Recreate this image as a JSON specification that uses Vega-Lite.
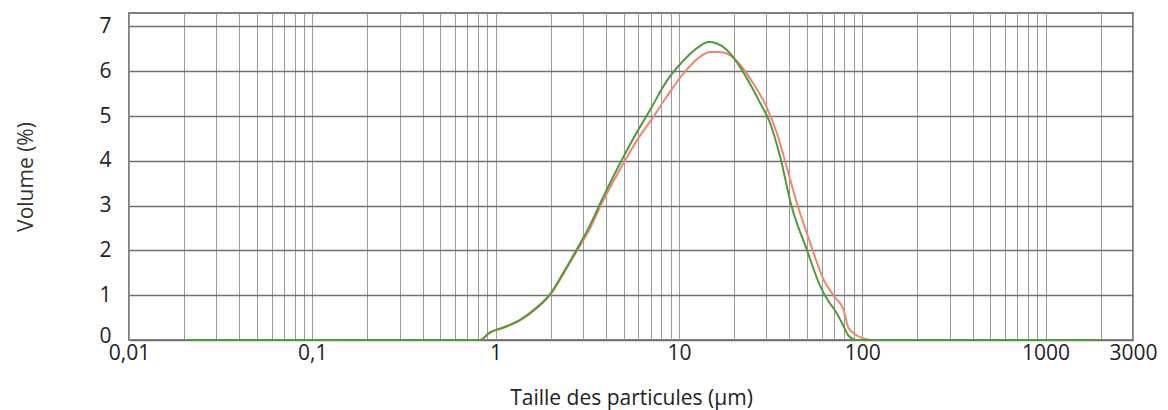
{
  "$schema": "https://vega.github.io/schema/vega-lite/v6.json",
  "autosize": "none",
  "padding": {"left": 129, "top": 13, "right": 35, "bottom": 70},
  "width": 1004,
  "height": 327,
  "background": "white",
  "config": {
    "font": "Open Sans",
    "view": {"stroke": "#555", "strokeWidth": 1.5}
  },
  "data": {
    "values": [
      {"taille": 0.02, "volume": 0, "serie": "rouge"},
      {"taille": 0.82, "volume": 0, "serie": "rouge"},
      {"taille": 0.93, "volume": 0.16, "serie": "rouge"},
      {"taille": 1.1, "volume": 0.27, "serie": "rouge"},
      {"taille": 1.36, "volume": 0.44, "serie": "rouge"},
      {"taille": 1.68, "volume": 0.71, "serie": "rouge"},
      {"taille": 1.98, "volume": 1.0, "serie": "rouge"},
      {"taille": 2.34, "volume": 1.47, "serie": "rouge"},
      {"taille": 2.77, "volume": 1.98, "serie": "rouge"},
      {"taille": 3.27, "volume": 2.49, "serie": "rouge"},
      {"taille": 3.87, "volume": 3.12, "serie": "rouge"},
      {"taille": 4.58, "volume": 3.68, "serie": "rouge"},
      {"taille": 5.89, "volume": 4.45, "serie": "rouge"},
      {"taille": 7.25, "volume": 4.98, "serie": "rouge"},
      {"taille": 8.57, "volume": 5.43, "serie": "rouge"},
      {"taille": 10.6, "volume": 5.95, "serie": "rouge"},
      {"taille": 13.0, "volume": 6.32, "serie": "rouge"},
      {"taille": 14.8, "volume": 6.43, "serie": "rouge"},
      {"taille": 16.7, "volume": 6.43, "serie": "rouge"},
      {"taille": 19.0, "volume": 6.36, "serie": "rouge"},
      {"taille": 21.5, "volume": 6.15, "serie": "rouge"},
      {"taille": 25.5, "volume": 5.72, "serie": "rouge"},
      {"taille": 30.1, "volume": 5.2, "serie": "rouge"},
      {"taille": 34.2, "volume": 4.62, "serie": "rouge"},
      {"taille": 37.2, "volume": 4.12, "serie": "rouge"},
      {"taille": 44.0, "volume": 3.06, "serie": "rouge"},
      {"taille": 52.0, "volume": 2.17, "serie": "rouge"},
      {"taille": 61.4, "volume": 1.36, "serie": "rouge"},
      {"taille": 71.1, "volume": 0.95, "serie": "rouge"},
      {"taille": 78.9, "volume": 0.69, "serie": "rouge"},
      {"taille": 84.0, "volume": 0.28, "serie": "rouge"},
      {"taille": 93.3, "volume": 0.1, "serie": "rouge"},
      {"taille": 105.9, "volume": 0.02, "serie": "rouge"},
      {"taille": 115, "volume": 0, "serie": "rouge"},
      {"taille": 2000, "volume": 0, "serie": "rouge"},

      {"taille": 0.02, "volume": 0, "serie": "vert"},
      {"taille": 0.82, "volume": 0, "serie": "vert"},
      {"taille": 0.93, "volume": 0.17, "serie": "vert"},
      {"taille": 1.1, "volume": 0.28, "serie": "vert"},
      {"taille": 1.36, "volume": 0.45, "serie": "vert"},
      {"taille": 1.68, "volume": 0.73, "serie": "vert"},
      {"taille": 1.98, "volume": 1.02, "serie": "vert"},
      {"taille": 2.34, "volume": 1.5, "serie": "vert"},
      {"taille": 2.77, "volume": 2.02, "serie": "vert"},
      {"taille": 3.27, "volume": 2.56, "serie": "vert"},
      {"taille": 3.87, "volume": 3.2, "serie": "vert"},
      {"taille": 4.58, "volume": 3.8, "serie": "vert"},
      {"taille": 5.64, "volume": 4.5, "serie": "vert"},
      {"taille": 6.95, "volume": 5.13, "serie": "vert"},
      {"taille": 8.57, "volume": 5.78, "serie": "vert"},
      {"taille": 10.6, "volume": 6.24, "serie": "vert"},
      {"taille": 13.0, "volume": 6.56, "serie": "vert"},
      {"taille": 14.5, "volume": 6.65, "serie": "vert"},
      {"taille": 16.1, "volume": 6.62, "serie": "vert"},
      {"taille": 18.2, "volume": 6.48, "serie": "vert"},
      {"taille": 20.7, "volume": 6.2, "serie": "vert"},
      {"taille": 23.4, "volume": 5.85, "serie": "vert"},
      {"taille": 27.7, "volume": 5.3, "serie": "vert"},
      {"taille": 31.4, "volume": 4.85, "serie": "vert"},
      {"taille": 35.6, "volume": 4.1, "serie": "vert"},
      {"taille": 41.2, "volume": 2.98, "serie": "vert"},
      {"taille": 49.8, "volume": 2.02, "serie": "vert"},
      {"taille": 58.9, "volume": 1.21, "serie": "vert"},
      {"taille": 65.3, "volume": 0.87, "serie": "vert"},
      {"taille": 71.1, "volume": 0.66, "serie": "vert"},
      {"taille": 78.9, "volume": 0.32, "serie": "vert"},
      {"taille": 84.0, "volume": 0.1, "serie": "vert"},
      {"taille": 93.3, "volume": 0, "serie": "vert"},
      {"taille": 2000, "volume": 0, "serie": "vert"}
    ]
  },
  "mark": {"type": "line", "strokeWidth": 2, "interpolate": "monotone", "clip": false},
  "encoding": {
    "x": {
      "field": "taille",
      "type": "quantitative",
      "scale": {"type": "log", "domain": [0.01, 3000], "nice": false},
      "axis": {
        "title": "Taille des particules (µm)",
        "titleFont": "Open Sans",
        "titleFontSize": 21,
        "titleFontWeight": "normal",
        "titleColor": "#222",
        "titlePadding": 24,
        "values": [0.01,0.02,0.03,0.04,0.05,0.06,0.07,0.08,0.09,0.1,0.2,0.3,0.4,0.5,0.6,0.7,0.8,0.9,1,2,3,4,5,6,7,8,9,10,20,30,40,50,60,70,80,90,100,200,300,400,500,600,700,800,900,1000,2000,3000],
        "labelExpr": "datum.value == 0.01 ? '0,01' : datum.value == 0.1 ? '0,1' : datum.value == 1 ? '1' : datum.value == 10 ? '10' : datum.value == 100 ? '100' : datum.value == 1000 ? '1000' : datum.value == 3000 ? '3000' : ''",
        "labelFlush": false,
        "labelOverlap": false,
        "labelFont": "Open Sans",
        "labelFontSize": 21,
        "labelColor": "#222",
        "labelPadding": 2,
        "ticks": false,
        "domain": false,
        "grid": true,
        "gridColor": "#9a9a9a",
        "gridWidth": 1
      }
    },
    "y": {
      "field": "volume",
      "type": "quantitative",
      "scale": {"domain": [0, 7.3], "nice": false},
      "axis": {
        "title": "Volume (%)",
        "titleFont": "Open Sans",
        "titleFontSize": 21,
        "titleFontWeight": "normal",
        "titleColor": "#333",
        "titlePadding": 62,
        "values": [0, 1, 2, 3, 4, 5, 6, 7],
        "labelFont": "Open Sans",
        "labelFontSize": 21,
        "labelColor": "#222",
        "labelPadding": 18,
        "labelFlush": 2,
        "labelFlushOffset": 6,
        "ticks": false,
        "domain": false,
        "grid": true,
        "gridColor": "#707070",
        "gridWidth": 1.3
      }
    },
    "color": {
      "field": "serie",
      "type": "nominal",
      "scale": {"domain": ["rouge", "vert"], "range": ["#f2856f", "#4f9a3c"]},
      "legend": null
    }
  }
}
